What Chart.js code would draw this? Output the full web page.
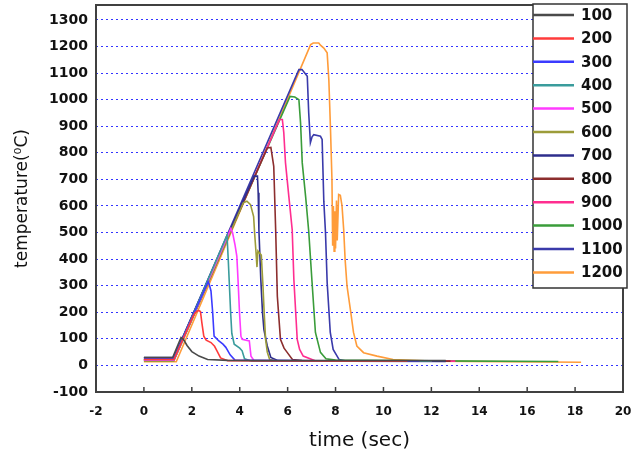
<!DOCTYPE html>
<html>
<head>
<meta charset="utf-8">
<script src="https://cdn.jsdelivr.net/npm/chart.js@4"></script>
<style>
  html, body { margin: 0; padding: 0; background: #fff; }
  canvas { display: block; }
</style>
</head>
<body>
<canvas id="chart" width="632" height="453"></canvas>
<script>
// valores (tempo em s, temperatura em C)
const seriesLabels = ['100', '200', '300', '400', '500', '600', '700', '800', '900', '1000', '1100', '1200'];

const time100 = [0, 1.2, 1.55, 1.65, 1.8, 2.0, 2.3, 2.66, 3.5, 7, 12.6];
const temp100 = [30, 30, 105, 98, 75, 52, 35, 22, 19, 18, 18];

const time200 = [0, 1.25, 2.05, 2.15, 2.28, 2.36, 2.42, 2.5, 2.6, 2.8, 2.95, 3.05, 3.2, 3.5, 8, 11];
const temp200 = [22, 22, 185, 200, 207, 203, 160, 110, 95, 86, 72, 55, 28, 18, 16, 16];

const time300 = [0, 1.25, 2.68, 2.73, 2.8, 2.87, 2.93, 3.13, 3.3, 3.42, 3.6, 3.8, 8, 11.5];
const temp300 = [27, 27, 315, 304, 280, 200, 110, 92, 80, 68, 40, 20, 16, 16];

const time400 = [0, 1.25, 3.47, 3.52, 3.57, 3.62, 3.67, 3.77, 4.0, 4.1, 4.2, 4.5, 9, 12];
const temp400 = [22, 22, 490, 400, 300, 200, 120, 80, 65, 55, 25, 16, 16, 16];

const time500 = [0, 1.25, 3.63, 3.7, 3.8, 3.88, 3.93, 3.99, 4.05, 4.1, 4.4, 4.47, 4.6, 8, 12];
const temp500 = [20, 20, 515, 500, 455, 410, 320, 200, 110, 98, 92, 35, 18, 16, 16];

const time600 = [0, 1.25, 4.15, 4.3, 4.45, 4.58, 4.62, 4.68, 4.72, 4.76, 4.9, 4.97, 5.02, 5.08, 5.15, 5.25, 5.6, 12];
const temp600 = [20, 20, 612, 618, 605, 560, 500, 425, 370, 430, 415, 300, 200, 98, 50, 22, 16, 16];

const time700 = [0, 1.25, 4.6, 4.74, 4.77, 4.8, 4.88, 4.95, 5.01, 5.15, 5.3, 5.6, 10, 12.6];
const temp700 = [30, 30, 712, 712, 650, 511, 323, 200, 135, 73, 30, 18, 16, 16];

const time800 = [0, 1.25, 5.15, 5.3, 5.42, 5.5, 5.57, 5.7, 5.85, 5.98, 6.2, 6.6, 10, 12.8];
const temp800 = [22, 22, 818, 820, 749, 511, 260, 98, 65, 49, 22, 18, 16, 16];

const time900 = [0, 1.25, 5.66, 5.78, 5.84, 5.91, 6.05, 6.19, 6.26, 6.4, 6.5, 6.65, 7.2, 11, 13];
const temp900 = [20, 20, 925, 925, 875, 763, 636, 511, 323, 98, 60, 35, 16, 16, 16];

const time1000 = [0, 1.25, 6.1, 6.3, 6.47, 6.54, 6.61, 6.75, 6.88, 7.02, 7.16, 7.37, 7.6, 8, 12, 17.3];
const temp1000 = [18, 18, 1012, 1010, 1000, 912, 762, 636, 505, 312, 124, 49, 25, 20, 17, 15];

const time1100 = [0, 1.25, 6.47, 6.6, 6.82, 6.88, 6.95, 7.02, 7.09, 7.37, 7.44, 7.51, 7.58, 7.65, 7.78, 7.9, 8.15, 8.5, 12.6];
const temp1100 = [28, 28, 1113, 1113, 1088, 950, 838, 860, 868, 862, 850, 618, 500, 312, 124, 60, 22, 16, 15];

const time1200 = [0, 1.35, 6.96, 7.07, 7.3, 7.37, 7.51, 7.65, 7.72, 7.79, 7.85, 7.88, 7.91, 7.94, 7.97, 8.0, 8.04, 8.07, 8.13, 8.2, 8.27, 8.34, 8.4, 8.48, 8.62, 8.75, 8.89, 9.17, 9.73, 10.4, 12, 18.25];
const temp1200 = [14, 14, 1207, 1213, 1213, 1205, 1194, 1176, 1075, 887, 699, 450, 600, 430, 580, 440, 620, 470, 643, 640, 600, 511, 398, 298, 210, 124, 73, 48, 35, 22, 16, 12];

const xTicks = [-2, 0, 2, 4, 6, 8, 10, 12, 14, 16, 18, 20];
const yTicks = [-100, 0, 100, 200, 300, 400, 500, 600, 700, 800, 900, 1000, 1100, 1200, 1300];

const seriesColors = ['#4a4a4a', '#ff3b3b', '#3b3bff', '#3a9c9c', '#ff3bff', '#9c9c3a',
                      '#2e2e8c', '#8c2e2e', '#ff2e90', '#3a9c3a', '#3a3aaa', '#ff9c3a'];

const times = [time100, time200, time300, time400, time500, time600, time700, time800, time900, time1000, time1100, time1200];
const temps = [temp100, temp200, temp300, temp400, temp500, temp600, temp700, temp800, temp900, temp1000, temp1100, temp1200];

const datasets = seriesLabels.map(function(lbl, i) {
    return {
        label: lbl,
        data: times[i].map(function(t, k) { return { x: t, y: temps[i][k] }; }),
        borderColor: seriesColors[i],
        backgroundColor: seriesColors[i],
        borderWidth: 1.6,
        pointRadius: 0,
        tension: 0,
        fill: false
    };
});

// moldura do grafico + marcas internas no eixo x
const framePlugin = {
    id: 'frame',
    afterDatasetsDraw(chart) {
        const { ctx, chartArea: a, scales } = chart;
        ctx.save();
        ctx.strokeStyle = '#404040';
        ctx.lineWidth = 1.5;
        xTicks.forEach(function(v) {
            const px = scales.x.getPixelForValue(v);
            ctx.beginPath();
            ctx.moveTo(px, a.bottom);
            ctx.lineTo(px, a.bottom - 5);
            ctx.stroke();
        });
        ctx.lineWidth = 2;
        ctx.strokeRect(a.left, a.top, a.right - a.left, a.bottom - a.top);
        ctx.restore();
    }
};

// legenda em caixa no canto superior direito
const legendPlugin = {
    id: 'boxLegend',
    afterDraw(chart) {
        const ctx = chart.ctx;
        const x0 = 533, y0 = 4, w = 94, h = 284;
        ctx.save();
        ctx.fillStyle = '#fff';
        ctx.fillRect(x0, y0, w, h);
        ctx.strokeStyle = '#333';
        ctx.lineWidth = 1.5;
        ctx.strokeRect(x0, y0, w, h);
        ctx.font = 'bold 15px "DejaVu Sans"';
        ctx.textBaseline = 'middle';
        ctx.fillStyle = '#111';
        chart.data.datasets.forEach(function(ds, i) {
            const y = 15 + i * 23.4;
            ctx.strokeStyle = ds.borderColor;
            ctx.lineWidth = 2.5;
            ctx.beginPath();
            ctx.moveTo(x0, y);
            ctx.lineTo(x0 + 41, y);
            ctx.stroke();
            ctx.fillText(ds.label, x0 + 48, y + 1);
        });
        ctx.restore();
    }
};

Chart.defaults.font.family = '"DejaVu Sans"';
Chart.defaults.color = '#111';

new Chart(document.getElementById('chart').getContext('2d'), {
    type: 'line',
    data: { datasets: datasets },
    plugins: [framePlugin, legendPlugin],
    options: {
        responsive: false,
        animation: false,
        devicePixelRatio: 1,
        layout: { padding: { top: 5, right: 9, left: 0, bottom: 0 } },
        plugins: { legend: { display: false }, tooltip: { enabled: false } },
        scales: {
            x: {
                type: 'linear',
                min: -2,
                max: 20,
                afterFit: function(s) { s.height = 61; s.paddingLeft = 0; s.paddingRight = 0; },
                afterBuildTicks: function(s) { s.ticks = xTicks.map(function(v) { return { value: v }; }); },
                grid: { display: false },
                border: { display: false },
                ticks: {
                    font: { size: 12, weight: 'bold' }, padding: 5, maxRotation: 0, autoSkip: false,
                    callback: function(v) { return String(v); }
                },
                title: { display: true, text: 'time (sec)', font: { size: 20 }, padding: { top: 0, bottom: 0 } }
            },
            y: {
                type: 'linear',
                min: -100,
                max: 1356,
                afterFit: function(s) { s.width = 96; s.paddingTop = 0; s.paddingBottom = 0; },
                afterBuildTicks: function(s) { s.ticks = yTicks.map(function(v) { return { value: v }; }); },
                grid: {
                    drawTicks: false,
                    lineWidth: 1,
                    color: function(c) { return c.tick && c.tick.value === -100 ? 'rgba(0,0,0,0)' : 'rgba(30,30,255,0.9)'; }
                },
                border: { display: false, dash: [2, 3] },
                ticks: {
                    font: { size: 14, weight: 'bold' }, padding: 8, autoSkip: false,
                    callback: function(v) { return String(v); }
                },
                title: { display: true, text: 'temperature(\u2070C)', font: { size: 17 }, padding: { top: 12, bottom: 0 } }
            }
        }
    }
});
</script>
</body>
</html>
